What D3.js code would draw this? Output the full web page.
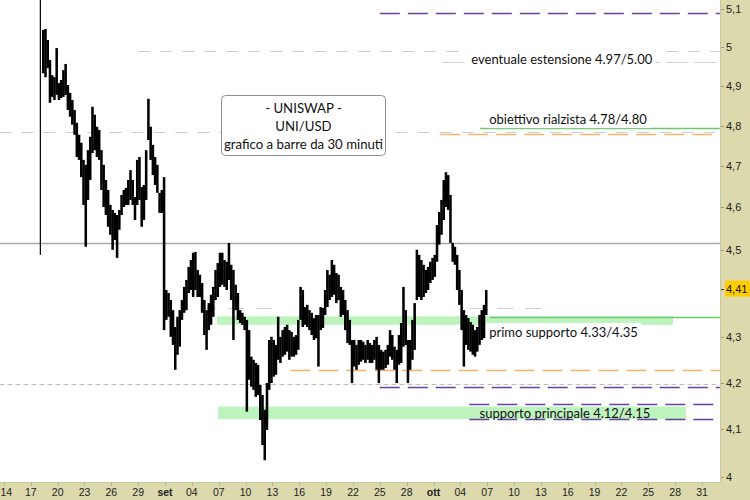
<!DOCTYPE html>
<html><head><meta charset="utf-8">
<script src="https://cdn.jsdelivr.net/npm/d3@7"></script>
<style>html,body{margin:0;padding:0;background:#fff;} svg{display:block;}</style>
</head><body><svg id="c" width="750" height="500"></svg>
<script>
// ---------- DATA ----------
const firstBar = "2023-08-18T00:00Z";   // first 6-hour bar
const barHours = 6;
const highs = [5.15,5.044,5.047,5.018,4.966,4.927,4.922,4.997,4.907,4.915,
4.940,4.956,4.902,4.882,4.864,4.839,4.807,4.777,4.757,4.715,
4.703,4.739,4.772,4.847,4.827,4.797,4.789,4.739,4.703,4.666,
4.642,4.606,4.594,4.587,4.582,4.594,4.630,4.642,4.647,4.666,
4.690,4.666,4.625,4.715,4.722,4.649,4.654,4.739,4.867,4.797,
4.752,4.722,4.703,4.635,4.642,4.673,4.407,4.400,4.384,4.361,
4.323,4.346,4.361,4.384,4.414,4.430,4.460,4.476,4.493,4.495,
4.453,4.442,4.423,4.384,4.361,4.377,4.396,4.414,4.453,4.469,
4.493,4.493,4.476,4.472,4.516,4.465,4.453,4.419,4.400,4.361,
4.355,4.346,4.339,4.316,4.257,4.250,4.243,4.239,4.195,4.173,
4.141,4.199,4.294,4.301,4.294,4.283,4.346,4.301,4.316,4.323,
4.328,4.316,4.312,4.301,4.305,4.339,4.414,4.407,4.368,4.373,
4.361,4.355,4.343,4.350,4.350,4.368,4.366,4.407,4.453,4.442,
4.476,4.465,4.446,4.442,4.414,4.407,4.384,4.361,4.339,4.294,
4.294,4.283,4.294,4.294,4.290,4.283,4.294,4.287,4.283,4.294,
4.301,4.283,4.272,4.268,4.272,4.283,4.316,4.305,4.279,4.272,
4.305,4.332,4.414,4.361,4.294,4.294,4.339,4.377,4.500,4.488,
4.476,4.465,4.453,4.460,4.472,4.481,4.488,4.558,4.589,4.618,
4.666,4.685,4.678,4.630,4.516,4.507,4.488,4.453,4.407,4.361,
4.350,4.343,4.334,4.328,4.316,4.323,4.350,4.361,4.373,4.407];
const lows = [4.488,4.932,4.922,4.945,4.857,4.872,4.864,4.877,4.864,4.869,
4.872,4.877,4.839,4.822,4.802,4.777,4.722,4.715,4.673,4.606,
4.507,4.618,4.666,4.732,4.739,4.722,4.715,4.642,4.601,4.582,
4.554,4.535,4.500,4.523,4.481,4.547,4.582,4.601,4.606,4.606,
4.618,4.606,4.570,4.606,4.618,4.554,4.570,4.618,4.764,4.715,
4.678,4.654,4.635,4.587,4.587,4.316,4.339,4.346,4.301,4.283,
4.228,4.261,4.279,4.339,4.355,4.361,4.400,4.407,4.391,4.407,
4.391,4.391,4.355,4.305,4.272,4.316,4.328,4.346,4.384,4.391,
4.414,4.419,4.414,4.407,4.430,4.384,4.294,4.361,4.339,4.332,
4.328,4.316,4.137,4.206,4.191,4.184,4.169,4.173,4.119,4.066,
4.034,4.098,4.184,4.199,4.213,4.217,4.250,4.243,4.257,4.261,
4.268,4.250,4.257,4.257,4.261,4.272,4.339,4.323,4.328,4.323,
4.316,4.305,4.294,4.298,4.235,4.316,4.321,4.350,4.368,4.384,
4.391,4.396,4.377,4.384,4.346,4.350,4.316,4.287,4.283,4.199,
4.235,4.228,4.239,4.246,4.250,4.243,4.250,4.243,4.243,4.250,
4.228,4.199,4.228,4.228,4.232,4.239,4.257,4.250,4.228,4.199,
4.239,4.243,4.279,4.283,4.199,4.228,4.250,4.272,4.384,4.391,
4.384,4.391,4.400,4.407,4.423,4.430,4.437,4.472,4.512,4.535,
4.570,4.601,4.594,4.516,4.472,4.465,4.407,4.373,4.316,4.235,
4.283,4.272,4.268,4.261,4.257,4.268,4.283,4.294,4.298,4.350];
const lastPrice = 4.41;
const yTicks = [4, 4.1, 4.2, 4.3, 4.5, 4.6, 4.7, 4.8, 4.9, 5, 5.1];
const xTickDates = ["2023-08-14","2023-08-17","2023-08-20","2023-08-23","2023-08-26","2023-08-29",
 "2023-09-01","2023-09-04","2023-09-07","2023-09-10","2023-09-13","2023-09-16","2023-09-19",
 "2023-09-22","2023-09-25","2023-09-28","2023-10-01","2023-10-04","2023-10-07","2023-10-10",
 "2023-10-13","2023-10-16","2023-10-19","2023-10-22","2023-10-25","2023-10-28","2023-10-31"];
const monthLabels = {"2023-09-01":"set","2023-10-01":"ott"};
const LEFT = "2023-08-13T12:00Z", RIGHT = "2023-11-02T00:00Z";
const bands = [
  {lo:4.328, hi:4.347, from:"2023-09-06T19:00Z", to:"2023-10-27T18:00Z"},
  {lo:4.121, hi:4.148, from:"2023-09-06T22:00Z", to:"2023-10-29T05:00Z"}
];
const levels = [
  {p:5.09,  from:"2023-09-25T00:00Z", to:RIGHT, kind:"purple"},
  {p:4.99,  from:"2023-08-29T00:00Z", to:RIGHT, kind:"grayDash"},
  {p:4.96,  from:"2023-10-02T00:00Z", to:RIGHT, kind:"grayLong"},
  {p:4.785, from:LEFT, to:RIGHT, kind:"grayDash"},
  {p:4.78,  from:"2023-10-01T18:00Z", to:RIGHT, kind:"orange"},
  {p:4.795, from:"2023-10-06T05:00Z", to:RIGHT, kind:"green"},
  {p:4.516, from:LEFT, to:RIGHT, kind:"graySolid"},
  {p:4.366, from:"2023-09-04T22:00Z", to:"2023-09-13T00:00Z", kind:"grayMid"},
  {p:4.366, from:"2023-10-05T00:00Z", to:"2023-10-13T00:00Z", kind:"grayMid"},
  {p:4.345, from:"2023-10-07T07:00Z", to:RIGHT, kind:"green"},
  {p:4.2275,from:"2023-09-15T00:00Z", to:RIGHT, kind:"orange"},
  {p:4.197, from:LEFT, to:RIGHT, kind:"grayFine"},
  {p:4.19,  from:"2023-09-25T00:00Z", to:RIGHT, kind:"purple"},
  {p:4.1535,from:"2023-10-05T00:00Z", to:"2023-11-01T10:00Z", kind:"purple"},
  {p:4.121, from:"2023-10-05T00:00Z", to:"2023-11-01T10:00Z", kind:"purple"}
];
const notes = [
  {text:"eventuale estensione 4.97/5.00", at:"2023-10-15T08:00Z", p:4.970},
  {text:"obiettivo rialzista 4.78/4.80",  at:"2023-10-16T00:30Z", p:4.816},
  {text:"primo supporto 4.33/4.35",       at:"2023-10-15T12:30Z", p:4.312},
  {text:"supporto principale 4.12/4.15",  at:"2023-10-15T16:30Z", p:4.134}
];
const titleLines = ["- UNISWAP -", "UNI/USD", "grafico a barre da 30 minuti"];

// ---------- STYLES ----------
const styles = {
  purple:   {stroke:"#6a3fa0", dash:"20,8", w:1.3},
  grayDash: {stroke:"#cdcdcd", dash:"12,10", w:1.2},
  grayLong: {stroke:"#d0d0d0", dash:"22,6", w:1.2},
  orange:   {stroke:"#f4b36b", dash:"20,8", w:1.4},
  green:    {stroke:"#6cc86c", dash:null, w:1.3},
  graySolid:{stroke:"#a9a9a9", dash:null, w:1.3},
  grayMid:  {stroke:"#cfcfcf", dash:"16,12", w:1.2},
  grayFine: {stroke:"#bdbdbd", dash:"5,3", w:1}
};
const W = 750, H = 500, PR = 720, PB = 482;
const panel = "#dcdaad";
const txtFont = "Lato, 'Open Sans', sans-serif";
const axFont = "'Liberation Sans', Arial, sans-serif";

const svg = d3.select("#c");
const x = d3.scaleUtc().domain([new Date("2023-08-17T00:00Z"), new Date("2023-10-31T00:00Z")]).range([30.8, 702]);
const y = d3.scaleLog().domain([4, 5.1]).range([476.5, 8.8]);

svg.append("defs").append("clipPath").attr("id","plot")
  .append("rect").attr("x",0).attr("y",0).attr("width",PR).attr("height",PB);

svg.append("rect").attr("width",W).attr("height",H).attr("fill","#fff");
const g = svg.append("g").attr("clip-path","url(#plot)");

// bands
g.selectAll("rect.band").data(bands).join("rect").attr("class","band")
  .attr("x", d => x(new Date(d.from))).attr("width", d => x(new Date(d.to)) - x(new Date(d.from)))
  .attr("y", d => y(d.hi)).attr("height", d => y(d.lo) - y(d.hi))
  .attr("fill", "#bdf3bd");

// levels
g.selectAll("line.lvl").data(levels).join("line").attr("class","lvl")
  .attr("x1", d => x(new Date(d.from))).attr("x2", d => x(new Date(d.to)))
  .attr("y1", d => Math.round(y(d.p)) + 0.5).attr("y2", d => Math.round(y(d.p)) + 0.5)
  .attr("stroke", d => styles[d.kind].stroke)
  .attr("stroke-width", d => styles[d.kind].w)
  .attr("stroke-dasharray", d => styles[d.kind].dash);

// price bars
const t0 = new Date(firstBar);
const bars = highs.map((h, i) => ({t: d3.utcHour.offset(t0, i * barHours), h, l: lows[i]}));
g.selectAll("rect.bar").data(bars).join("rect").attr("class","bar")
  .attr("x", d => x(d.t))
  .attr("width", (d, i) => i === 0 ? 1.2 : x(d3.utcHour.offset(d.t, barHours)) - x(d.t) + 0.3)
  .attr("y", d => y(d.h)).attr("height", d => y(d.l) - y(d.h))
  .attr("fill", "#000");

// notes
notes.forEach(n => {
  const inBand = bands.some(b => n.p >= b.lo && n.p <= b.hi);
  const t = g.append("text").attr("x", x(new Date(n.at))).attr("y", y(n.p))
    .attr("text-anchor","middle").attr("dominant-baseline","central")
    .attr("font-family", txtFont).attr("font-size", 13).attr("fill","#111").text(n.text);
  if (!inBand) {
    const bb = t.node().getBBox();
    g.insert("rect", () => t.node()).attr("x", bb.x - 3).attr("y", bb.y - 1)
      .attr("width", bb.width + 6).attr("height", bb.height + 2).attr("fill", "#fff");
  }
});

// title box
const tb = svg.append("g");
tb.append("rect").attr("x",221.5).attr("y",95.5).attr("width",164).attr("height",60).attr("rx",4)
  .attr("fill","#fff").attr("stroke","#8e8e8e");
titleLines.forEach((s, i) => tb.append("text").attr("x",303.5).attr("y",108 + i*18)
  .attr("text-anchor","middle").attr("dominant-baseline","central")
  .attr("font-family", txtFont).attr("font-size", 13.2).attr("fill","#111").text(s));

// panels
svg.append("rect").attr("x",PR).attr("y",0).attr("width",W-PR).attr("height",H).attr("fill",panel);
svg.append("rect").attr("x",0).attr("y",PB).attr("width",W).attr("height",H-PB).attr("fill",panel);
svg.append("line").attr("x1",PR+0.5).attr("x2",PR+0.5).attr("y1",0).attr("y2",PB).attr("stroke","#c9c7a0");
svg.append("line").attr("x1",0).attr("x2",PR).attr("y1",PB+0.5).attr("y2",PB+0.5).attr("stroke","#c9c7a0");

// right axis
const ra = svg.append("g");
yTicks.forEach(v => {
  const yy = y(v);
  ra.append("line").attr("x1",PR+1).attr("x2",PR+4).attr("y1",Math.round(yy)+0.5).attr("y2",Math.round(yy)+0.5).attr("stroke","#9a9880");
  ra.append("text").attr("x",726).attr("y",yy).attr("dominant-baseline","central")
    .attr("font-family",axFont).attr("font-size",11).attr("fill","#222")
    .text(d3.format("~g")(v).replace(".", ","));
});
// last price marker
const ly = y(lastPrice);
ra.append("rect").attr("x",725).attr("y",ly-8).attr("width",25).attr("height",16).attr("fill","#ffcc00");
ra.append("line").attr("x1",PR+1).attr("x2",PR+4).attr("y1",Math.round(ly)+0.5).attr("y2",Math.round(ly)+0.5).attr("stroke","#333");
ra.append("text").attr("x",726).attr("y",ly).attr("dominant-baseline","central")
  .attr("font-family",axFont).attr("font-size",11).attr("fill","#111")
  .text(String(lastPrice).replace(".", ","));

// bottom axis
const ba = svg.append("g");
xTickDates.forEach(s => {
  const xx = x(new Date(s + "T00:00Z"));
  ba.append("line").attr("x1",Math.round(xx)+0.5).attr("x2",Math.round(xx)+0.5).attr("y1",PB+1).attr("y2",PB+4).attr("stroke","#b5b38e");
  const lab = monthLabels[s] || s.slice(8);
  const t = ba.append("text").attr("x",xx).attr("y",492).attr("text-anchor","middle").attr("dominant-baseline","central")
    .attr("font-family",axFont).attr("font-size",10.5).attr("fill","#222")
    .attr("font-weight", monthLabels[s] ? "bold" : "normal").text(lab);
  const bb = t.node().getBBox();
  if (bb.x < 0.5) t.attr("text-anchor","start").attr("x", 0.5);
});
</script>
</body></html>
